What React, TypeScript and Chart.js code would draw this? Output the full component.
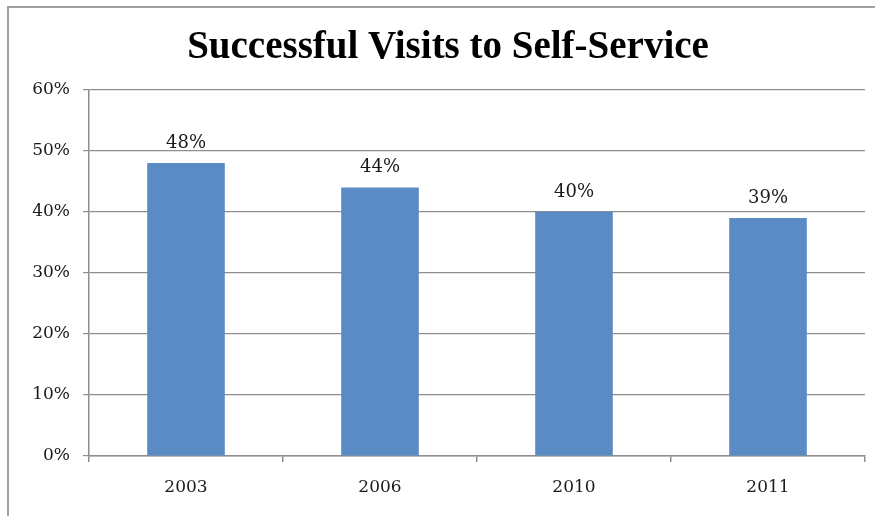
import React, { useEffect, useRef } from "react";
import { Chart, registerables } from "chart.js";

Chart.register(...registerables);

const TITLE = "Successful Visits to Self-Service";
const CATEGORIES = ["2003", "2006", "2010", "2011"];
const VALUES = [48, 44, 40, 39];
const Y_MIN = 0;
const Y_MAX = 60;
const Y_STEP = 10;

const BAR_COLOR = "#5B8BC5";
const GRID_COLOR = "#8E8E8E";
const TICK_FONT = "DejaVu Serif";

const dataLabelPlugin = {
  id: "dataLabels",
  afterDatasetsDraw(chart: any) {
    const ctx = chart.ctx;
    const meta = chart.getDatasetMeta(0);
    ctx.save();
    ctx.font = `18px "${TICK_FONT}"`;
    ctx.fillStyle = "#1a1a1a";
    ctx.textAlign = "center";
    ctx.textBaseline = "middle";
    meta.data.forEach((bar: any, i: number) => {
      ctx.fillText(`${VALUES[i]}%`, bar.x, bar.y - 20);
    });
    ctx.restore();
  },
};

export default function App() {
  const canvasRef = useRef<HTMLCanvasElement | null>(null);

  useEffect(() => {
    if (!canvasRef.current) return;
    const chart = new Chart(canvasRef.current, {
      type: "bar",
      data: {
        labels: CATEGORIES,
        datasets: [
          {
            data: VALUES,
            backgroundColor: BAR_COLOR,
            borderWidth: 0,
            barPercentage: 0.4,
            categoryPercentage: 1,
          },
        ],
      },
      options: {
        animation: false,
        responsive: false,
        devicePixelRatio: 1,
        layout: { padding: { left: 31, right: 10, top: 0, bottom: 0 } },
        plugins: {
          legend: { display: false },
          tooltip: { enabled: false },
          title: {
            display: true,
            text: TITLE,
            color: "#000000",
            font: { family: "Liberation Serif", size: 39, weight: "bold", lineHeight: 1.2 },
            padding: { top: 25, bottom: 18 },
          },
        },
        scales: {
          x: {
            grid: {
              display: true,
              drawOnChartArea: false,
              drawTicks: true,
              tickLength: 6,
              offset: true,
              color: GRID_COLOR,
              lineWidth: 1.5,
            },
            border: { display: true, color: GRID_COLOR, width: 1.5 },
            ticks: {
              color: "#1a1a1a",
              font: { family: TICK_FONT, size: 17 },
              padding: 15,
              maxRotation: 0,
            },
            afterFit: (scale: any) => {
              scale.height = 60;
            },
          },
          y: {
            min: Y_MIN,
            max: Y_MAX,
            grid: {
              color: GRID_COLOR,
              lineWidth: 1.2,
              drawTicks: true,
              tickLength: 6,
            },
            border: { display: true, color: GRID_COLOR, width: 1.5 },
            ticks: {
              stepSize: Y_STEP,
              color: "#1a1a1a",
              font: { family: TICK_FONT, size: 17 },
              padding: 13,
              callback: (v: any) => `${v}%`,
            },
            afterFit: (scale: any) => {
              scale.width = 58;
            },
          },
        },
      },
      plugins: [dataLabelPlugin],
    });
    return () => chart.destroy();
  }, []);

  return (
    <div style={{ position: "fixed", left: 0, top: 0, width: 875, height: 516, background: "#fff", overflow: "hidden" }}>
      <div
        style={{
          position: "absolute",
          left: 7,
          top: 6,
          width: 2000,
          height: 2000,
          borderLeft: "2px solid #A0A0A0",
          borderTop: "2px solid #A0A0A0",
        }}
      />
      <canvas
        ref={canvasRef}
        width={875}
        height={516}
        style={{ position: "absolute", left: 0, top: 0, width: 875, height: 516 }}
      />
    </div>
  );
}
